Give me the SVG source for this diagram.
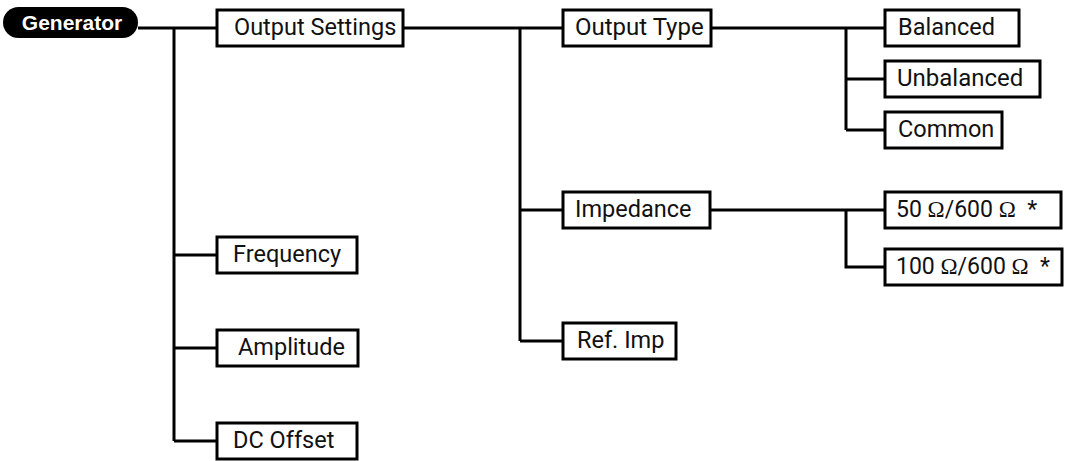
<svg xmlns="http://www.w3.org/2000/svg" width="1077" height="461" viewBox="0 0 1077 461">
<style>
.box{fill:#fff;stroke:#000;stroke-width:3}
.lbl{font-family:Roboto,"Liberation Sans",sans-serif;font-size:23.5px;fill:#111}
.big{font-size:24px}
.imp{font-size:23px}
.om{font-family:"Liberation Serif","DejaVu Serif",serif}
.con{fill:none;stroke:#000;stroke-width:3}
.root{font-family:"Liberation Sans",Arial,sans-serif;font-size:21px;font-weight:bold;fill:#fff}
</style>
<rect width="1077" height="461" fill="#fff"/>
<g id="connectors">
<path class="con" d="M138 28H217M174 28V441M174 255H217M174 348H217M174 441H217"/>
<path class="con" d="M403 28H563M520 28V341M520 210H563M520 341H563"/>
<path class="con" d="M711 28H885M846 28V130M846 79H885M846 130H885"/>
<path class="con" d="M710 210H885M846 210V267H885"/>
</g>
<g id="generator"><rect x="3" y="7" width="135" height="31" rx="15.5" fill="#000"/><text class="root" x="72" y="30" text-anchor="middle">Generator</text></g>
<g id="output-settings"><rect class="box" x="217" y="10" width="186" height="36"/><text class="lbl" x="234" y="35">Output Settings</text></g>
<g id="output-type"><rect class="box" x="563" y="10" width="148" height="36"/><text class="lbl big" x="575" y="35">Output Type</text></g>
<g id="balanced"><rect class="box" x="885" y="10" width="134" height="36"/><text class="lbl" x="898" y="35">Balanced</text></g>
<g id="unbalanced"><rect class="box" x="885" y="61" width="155" height="36"/><text class="lbl big" x="897" y="86">Unbalanced</text></g>
<g id="common"><rect class="box" x="885" y="112" width="117" height="36"/><text class="lbl" x="898" y="137">Common</text></g>
<g id="impedance"><rect class="box" x="563" y="192" width="147" height="36"/><text class="lbl" x="575" y="217">Impedance</text></g>
<g id="imp-50"><rect class="box" x="885" y="192" width="176" height="36"/><text class="lbl imp" x="896" y="217">50 <tspan class="om">Ω</tspan>/600 <tspan class="om">Ω</tspan>&#160; *</text></g>
<g id="imp-100"><rect class="box" x="885" y="249" width="177" height="36"/><text class="lbl imp" x="896" y="274">100 <tspan class="om">Ω</tspan>/600 <tspan class="om">Ω</tspan>&#160; *</text></g>
<g id="ref-imp"><rect class="box" x="563" y="323" width="113" height="36"/><text class="lbl" x="577" y="348">Ref. Imp</text></g>
<g id="frequency"><rect class="box" x="217" y="237" width="140" height="36"/><text class="lbl" x="233" y="262">Frequency</text></g>
<g id="amplitude"><rect class="box" x="217" y="330" width="141" height="36"/><text class="lbl" x="238" y="355">Amplitude</text></g>
<g id="dc-offset"><rect class="box" x="217" y="423" width="140" height="36"/><text class="lbl" x="233" y="448">DC Offset</text></g>
</svg>
